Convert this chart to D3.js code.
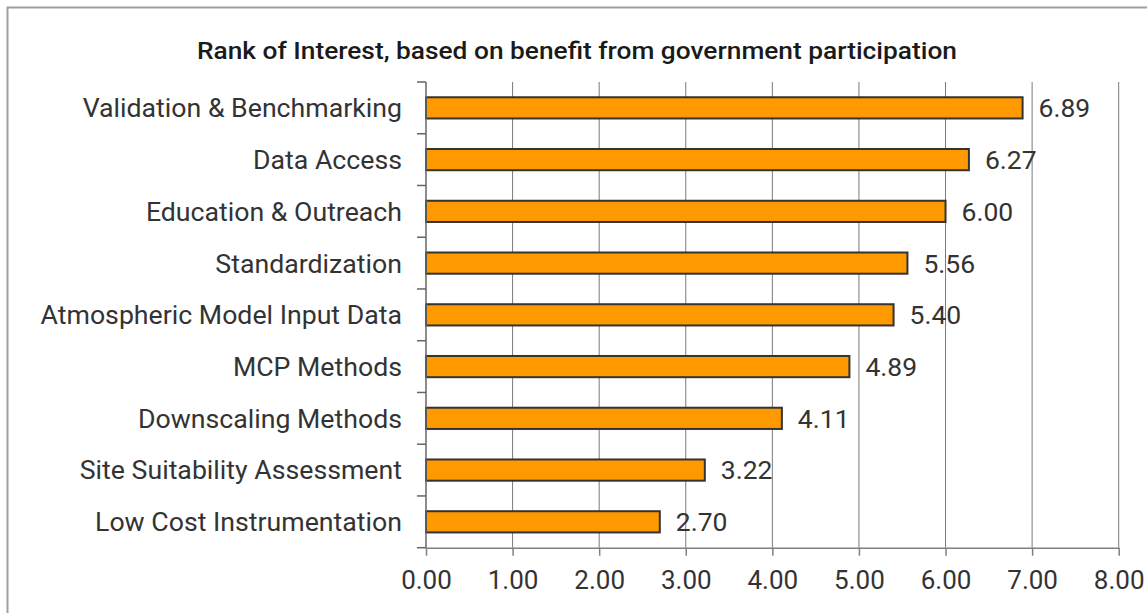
<!DOCTYPE html>
<html><head><meta charset="utf-8">
<script src="https://cdn.jsdelivr.net/npm/d3@7"></script>
<style>body{margin:0;background:#fff}svg{display:block}</style>
</head><body>
<script>
const categories = ["Validation & Benchmarking","Data Access","Education & Outreach","Standardization","Atmospheric Model Input Data","MCP Methods","Downscaling Methods","Site Suitability Assessment","Low Cost Instrumentation"];
const values = [6.89,6.27,6.00,5.56,5.40,4.89,4.11,3.22,2.70];
const xTicks = [0,1,2,3,4,5,6,7,8];
const title = "Rank of Interest, based on benefit from government participation";

const W=1147,H=613;
const svg=d3.select("body").append("svg").attr("width",W).attr("height",H);
svg.append("rect").attr("width",W).attr("height",H).attr("fill","#fff");
svg.append("path").attr("d","M7.5,"+H+"V7.5H"+W).attr("fill","none").attr("stroke","#a0a0a0").attr("stroke-width",2);

const m={left:426,right:1118.7,top:82,bottom:547.7};
const x=d3.scaleLinear().domain([0,8]).range([m.left,m.right]);
const y=d3.scaleBand().domain(categories).range([m.top,m.bottom]).paddingInner(0.59).paddingOuter(0.295);

svg.append("text").attr("x",577).attr("y",59).attr("text-anchor","middle")
  .attr("font-family","Roboto").attr("font-weight",500).attr("font-size",24.5)
  .attr("textLength",760).attr("lengthAdjust","spacingAndGlyphs")
  .attr("fill","#1a1a1a").text(title);

// gridlines
svg.append("g").selectAll("line").data(xTicks.slice(1)).join("line")
  .attr("x1",d=>x(d)).attr("x2",d=>x(d)).attr("y1",m.top).attr("y2",m.bottom)
  .attr("stroke","#7a7a7a").attr("stroke-width",1);

// bars
svg.append("g").selectAll("rect").data(values).join("rect")
  .attr("x",x(0)).attr("y",(d,i)=>y(categories[i]))
  .attr("width",d=>x(d)-x(0)).attr("height",y.bandwidth())
  .attr("fill","#ff9900").attr("stroke","#333").attr("stroke-width",2);

// value labels
svg.append("g").selectAll("text").data(values).join("text")
  .attr("x",d=>x(d)+16).attr("y",(d,i)=>y(categories[i])+y.bandwidth()/2+9.4)
  .attr("font-family","Roboto").attr("font-size",26.5).attr("fill","#333")
  .text(d=>d.toFixed(2));

// x axis
const xa=svg.append("g").attr("transform",`translate(0,${m.bottom})`)
  .call(d3.axisBottom(x).tickValues(xTicks).tickFormat(d3.format(".2f")).tickSize(8).tickSizeOuter(0));
xa.select(".domain").attr("stroke","#808080").attr("stroke-width",1.5);
xa.selectAll(".tick line").attr("stroke","#808080").attr("stroke-width",1.5);
xa.selectAll("text").attr("font-family","Roboto").attr("font-size",26).attr("fill","#333").attr("dy",null).attr("y",41);

// y axis
const yb=d3.scaleLinear().domain([0,categories.length]).range([m.top,m.bottom]);
svg.append("line").attr("x1",m.left).attr("x2",m.left).attr("y1",m.top).attr("y2",m.bottom).attr("stroke","#666").attr("stroke-width",1.5);
svg.append("g").selectAll("line").data(d3.range(categories.length+1)).join("line")
  .attr("x1",m.left-9).attr("x2",m.left).attr("y1",d=>yb(d)).attr("y2",d=>yb(d)).attr("stroke","#666").attr("stroke-width",1.5);
svg.append("g").selectAll("text").data(categories).join("text")
  .attr("x",402).attr("y",d=>y(d)+y.bandwidth()/2+9.4).attr("text-anchor","end")
  .attr("font-family","Roboto").attr("font-size",26.7).attr("fill","#333").text(d=>d);
</script>
</body></html>
